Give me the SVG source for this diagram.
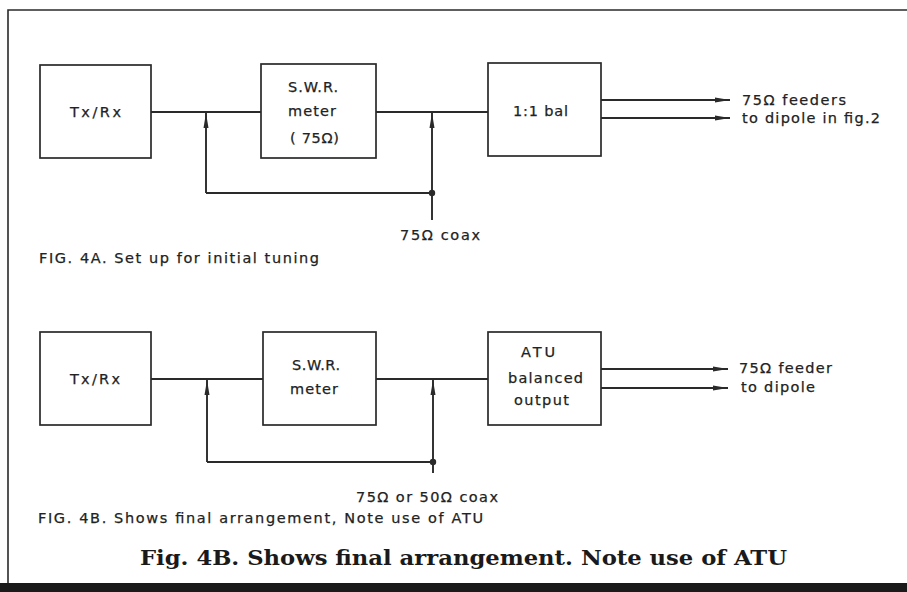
<svg xmlns="http://www.w3.org/2000/svg" width="907" height="592" viewBox="0 0 907 592">
<style>
.box{fill:#fff;stroke:#2a2a2a;stroke-width:1.7}
.ln{fill:none;stroke:#2a2a2a;stroke-width:1.9}
.t{font-family:"DejaVu Sans","Liberation Sans",sans-serif;font-size:14.5px;fill:#222;stroke:#222;stroke-width:0.25}
.cap{font-family:"DejaVu Serif","Liberation Serif",serif;font-weight:bold;font-size:20px;fill:#1a1a1a}
</style>
<defs>
<marker id="ah" viewBox="0 0 15 6" refX="15" refY="3" markerWidth="15" markerHeight="6" markerUnits="userSpaceOnUse" orient="auto">
<path d="M0,0.5 L15,3 L0,5.5 Z" fill="#2a2a2a"/>
</marker>
</defs>
<rect width="907" height="592" fill="#fff"/>
<g id="frame">
<path d="M8,583 L8,10 L907,10" fill="none" stroke="#2a2a2a" stroke-width="1.6"/>
<rect x="0" y="583" width="907" height="9" fill="#1a1a1a"/>
</g>
<g id="connectors">
<path class="ln" d="M151,112 H261 M376,112 H488"/>
<path class="ln" d="M206,193 H432"/>
<path class="ln" d="M206,193 V113" marker-end="url(#ah)"/>
<path class="ln" d="M432,220 V113" marker-end="url(#ah)"/>
<circle cx="432" cy="193" r="3.2" fill="#2a2a2a"/>
<path class="ln" d="M601,100 H730" marker-end="url(#ah)"/>
<path class="ln" d="M601,118 H730" marker-end="url(#ah)"/>
<path class="ln" d="M151,379 H263 M376,379 H488"/>
<path class="ln" d="M207,462 H433"/>
<path class="ln" d="M207,462 V380" marker-end="url(#ah)"/>
<path class="ln" d="M433,473 V380" marker-end="url(#ah)"/>
<circle cx="433" cy="462" r="3.2" fill="#2a2a2a"/>
<path class="ln" d="M601,369 H728" marker-end="url(#ah)"/>
<path class="ln" d="M601,388 H728" marker-end="url(#ah)"/>
</g>
<g id="txrx_a">
<rect class="box" x="40" y="65" width="111" height="93"/>
<text class="t" x="70" y="117" textLength="51">Tx/Rx</text>
</g>
<g id="swr_a">
<rect class="box" x="261" y="64" width="115" height="94"/>
<text class="t" x="288" y="92" textLength="50">S.W.R.</text>
<text class="t" x="288" y="116" textLength="48">meter</text>
<text class="t" x="290" y="143" textLength="49">( 75Ω)</text>
</g>
<g id="balun_a">
<rect class="box" x="488" y="63" width="113" height="93"/>
<text class="t" x="513" y="116" textLength="55">1:1 bal</text>
</g>
<g id="labels_a">
<text class="t" x="742" y="105" textLength="104">75Ω feeders</text>
<text class="t" x="742" y="123" textLength="138">to dipole in fig.2</text>
<text class="t" x="400" y="240" textLength="80">75Ω coax</text>
<text class="t" x="39" y="263" textLength="280">FIG. 4A. Set up for initial tuning</text>
</g>
<g id="txrx_b">
<rect class="box" x="40" y="332" width="111" height="93"/>
<text class="t" x="70" y="384" textLength="50">Tx/Rx</text>
</g>
<g id="swr_b">
<rect class="box" x="263" y="332" width="113" height="93"/>
<text class="t" x="292" y="370" textLength="48">S.W.R.</text>
<text class="t" x="290" y="394" textLength="48">meter</text>
</g>
<g id="atu_b">
<rect class="box" x="488" y="332" width="113" height="93"/>
<text class="t" x="521" y="357" textLength="34">ATU</text>
<text class="t" x="508" y="383" textLength="75">balanced</text>
<text class="t" x="514" y="405" textLength="55">output</text>
</g>
<g id="labels_b">
<text class="t" x="739" y="373" textLength="93">75Ω feeder</text>
<text class="t" x="741" y="392" textLength="74">to dipole</text>
<text class="t" x="356" y="502" textLength="142">75Ω or 50Ω coax</text>
<text class="t" x="38" y="523" textLength="445">FIG. 4B. Shows final arrangement, Note use of ATU</text>
<text class="cap" x="140" y="565" textLength="647" lengthAdjust="spacingAndGlyphs">Fig. 4B. Shows final arrangement. Note use of ATU</text>
</g>
</svg>
